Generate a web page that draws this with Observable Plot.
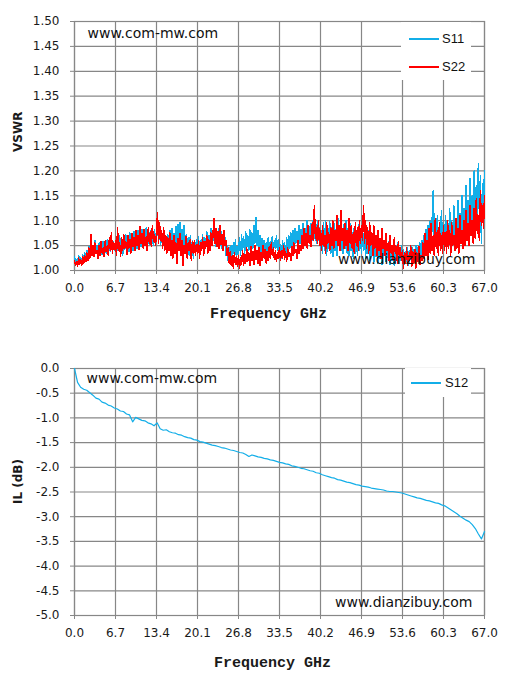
<!DOCTYPE html>
<html>
<head>
<meta charset="utf-8">
<script src="https://cdn.jsdelivr.net/npm/d3@7"></script>
<script src="https://cdn.jsdelivr.net/npm/@observablehq/plot@0.6"></script>
<style>
  body { margin: 0; background: #fff; }
  .wrap { position: relative; width: 506px; }
  .wrap svg { display: block; }
  .legend { position: absolute; z-index: 5; background: #ffffff; font-family: "Liberation Sans", sans-serif; font-size: 13px; color: #111; }
  .sw { position: absolute; width: 30px; height: 2px; }
  .lab { position: absolute; line-height: 14px; }
</style>
</head>
<body>
<div id="top" class="wrap"></div>
<div id="bot" class="wrap"></div>
<script>
// ---------- data ----------
const xTicks = [0, 6.7, 13.4, 20.1, 26.8, 33.5, 40.2, 46.9, 53.6, 60.3, 67.0];
const vswrTicks = [1.00, 1.05, 1.10, 1.15, 1.20, 1.25, 1.30, 1.35, 1.40, 1.45, 1.50];
const ilTicks = [0, -0.5, -1.0, -1.5, -2.0, -2.5, -3.0, -3.5, -4.0, -4.5, -5.0];
const seriesNames = ["S11", "S22", "S12"];

// VSWR sampled every 0.1675 GHz (0 .. 67 GHz), 40 samples per 6.7 GHz
const vswrStep = 0.1675;
const s11 = [
  1.028,1.015,1.022,1.012,1.030,1.018,1.025,1.015,1.032,1.020,1.035,1.022,
  1.040,1.028,1.048,1.030,1.055,1.035,1.045,1.028,1.060,1.035,1.050,1.030,1.055,1.038,1.048,1.032,1.058,1.040,1.052,1.035,1.062,1.042,1.055,1.038,1.065,1.045,1.058,1.040,
  1.050,1.032,1.062,1.040,1.070,1.035,1.058,1.030,1.066,1.042,1.072,1.045,1.060,1.038,1.075,1.048,1.065,1.040,1.078,1.050,
  1.068,1.045,1.080,1.052,1.070,1.048,1.082,1.055,1.072,1.050,1.085,1.058,1.075,1.052,1.080,1.055,1.070,1.050,1.082,1.058,
  1.065,1.090,1.060,1.078,1.052,1.070,1.045,1.075,1.050,1.068,1.040,1.072,1.048,1.080,1.052,1.085,1.058,1.075,1.050,1.088,
  1.055,1.092,1.060,1.096,1.050,1.082,1.045,1.090,1.040,1.072,1.035,1.065,1.030,1.070,1.040,1.060,1.025,1.055,1.035,1.062,
  1.040,1.068,1.030,1.060,1.045,1.072,1.038,1.065,1.050,1.078,1.045,1.070,1.055,1.085,1.050,1.075,1.060,1.080,1.048,1.072,
  1.055,1.085,1.050,1.078,1.045,1.070,1.055,1.065,1.030,1.050,1.020,1.045,1.025,1.050,1.018,1.055,1.030,1.062,1.025,1.048,
  1.035,1.065,1.030,1.072,1.040,1.068,1.035,1.078,1.045,1.070,1.040,1.082,1.050,1.075,1.045,1.090,1.055,1.106,1.050,1.080,
  1.040,1.070,1.035,1.065,1.030,1.060,1.028,1.055,1.035,1.065,1.030,1.058,1.040,1.068,1.035,1.060,1.045,1.070,1.040,1.062,
  1.030,1.052,1.025,1.060,1.035,1.055,1.030,1.065,1.040,1.070,1.045,1.075,1.050,1.080,1.045,1.085,1.055,1.078,1.050,1.090,
  1.055,1.082,1.060,1.095,1.050,1.085,1.058,1.100,1.062,1.088,1.055,1.095,1.060,1.105,1.065,1.090,1.055,1.100,1.060,1.085,
  1.045,1.080,1.035,1.095,1.040,1.100,1.030,1.088,1.045,1.098,1.035,1.085,1.028,1.095,1.040,1.082,1.030,1.105,1.050,1.090,
  1.040,1.078,1.035,1.092,1.045,1.100,1.035,1.085,1.030,1.095,1.040,1.075,1.025,1.088,1.035,1.080,1.030,1.092,1.040,1.070,
  1.035,1.085,1.040,1.075,1.025,1.070,1.035,1.080,1.020,1.065,1.030,1.072,1.018,1.060,1.028,1.068,1.015,1.058,1.025,1.062,
  1.012,1.055,1.030,1.060,1.018,1.050,1.025,1.058,1.012,1.048,1.020,1.052,1.010,1.045,1.022,1.055,1.015,1.042,1.020,1.050,
  1.020,1.042,1.012,1.038,1.018,1.045,1.010,1.040,1.022,1.048,1.015,1.042,1.020,1.050,1.018,1.045,1.025,1.055,1.030,1.060,
  1.035,1.070,1.040,1.082,1.045,1.090,1.038,1.098,1.045,1.105,1.160,1.070,1.095,1.050,1.110,1.045,1.090,1.055,1.120,1.050,
  1.085,1.050,1.110,1.060,1.095,1.045,1.125,1.065,1.100,1.055,1.130,1.070,1.105,1.060,1.140,1.075,1.115,1.065,1.150,1.080,
  1.125,1.070,1.170,1.090,1.140,1.080,1.185,1.095,1.150,1.085,1.200,1.100,1.170,1.095,1.215,1.110,1.190,1.055,1.175,1.130,
  1.200
];
const s22 = [
  1.020,1.010,1.018,1.008,1.025,1.012,1.022,1.010,1.028,1.015,1.030,1.018,
  1.035,1.020,1.045,1.025,1.072,1.030,1.050,1.028,1.055,1.035,1.040,1.025,1.050,1.030,1.058,1.035,1.045,1.028,1.060,1.038,1.050,1.030,1.065,1.040,1.075,1.035,1.055,1.042,
  1.060,1.030,1.085,1.040,1.055,1.028,1.065,1.040,1.072,1.045,1.058,1.032,1.070,1.045,1.062,1.035,1.075,1.048,1.066,1.040,
  1.080,1.050,1.070,1.042,1.088,1.055,1.075,1.045,1.082,1.050,1.068,1.040,1.085,1.055,1.078,1.048,1.090,1.058,1.072,1.050,
  1.075,1.115,1.055,1.095,1.060,1.080,1.045,1.085,1.040,1.070,1.035,1.065,1.040,1.075,1.030,1.060,1.025,1.070,1.035,1.055,
  1.015,1.065,1.040,1.075,1.030,1.060,1.010,1.050,1.035,1.068,1.025,1.055,1.040,1.062,1.020,1.058,1.035,1.060,1.030,1.052,
  1.035,1.060,1.025,1.055,1.040,1.065,1.030,1.058,1.045,1.070,1.035,1.062,1.040,1.075,1.050,1.068,1.105,1.055,1.085,1.048,
  1.078,1.045,1.090,1.052,1.072,1.040,1.080,1.050,1.060,1.030,1.045,1.015,1.038,1.010,1.030,1.005,1.035,1.012,1.028,1.008,
  1.030,1.005,1.025,1.012,1.040,1.010,1.032,1.015,1.045,1.018,1.035,1.010,1.048,1.020,1.038,1.012,1.050,1.022,1.040,1.015,
  1.045,1.010,1.035,1.020,1.050,1.025,1.042,1.015,1.038,1.020,1.048,1.025,1.055,1.030,1.045,1.022,1.040,1.018,1.035,1.025,
  1.045,1.020,1.040,1.025,1.050,1.022,1.038,1.018,1.045,1.028,1.035,1.020,1.048,1.030,1.055,1.035,1.042,1.025,1.060,1.035,
  1.050,1.040,1.070,1.045,1.085,1.050,1.075,1.045,1.090,1.055,1.070,1.048,1.095,1.060,1.130,1.065,1.085,1.055,1.100,1.050,
  1.080,1.040,1.090,1.050,1.070,1.035,1.095,1.055,1.075,1.040,1.085,1.050,1.100,1.045,1.080,1.060,1.110,1.050,1.090,1.040,
  1.120,1.060,1.085,1.045,1.095,1.050,1.080,1.040,1.105,1.055,1.090,1.045,1.075,1.035,1.095,1.050,1.085,1.040,1.100,1.055,
  1.090,1.060,1.130,1.055,1.100,1.045,1.085,1.035,1.095,1.050,1.075,1.030,1.090,1.045,1.070,1.030,1.080,1.040,1.065,1.025,
  1.085,1.045,1.060,1.030,1.075,1.040,1.055,1.020,1.070,1.035,1.050,1.020,1.065,1.035,1.048,1.015,1.058,1.030,1.045,1.020,
  1.040,1.005,1.035,1.015,1.045,1.010,1.030,1.020,1.050,1.008,1.038,1.015,1.042,1.005,1.035,1.018,1.048,1.012,1.030,1.020,
  1.055,1.025,1.075,1.030,1.060,1.022,1.085,1.035,1.095,1.040,1.070,1.030,1.105,1.045,1.080,1.030,1.095,1.040,1.070,1.035,
  1.090,1.040,1.075,1.035,1.100,1.045,1.080,1.030,1.095,1.050,1.070,1.040,1.105,1.045,1.085,1.035,1.110,1.055,1.080,1.045,
  1.100,1.050,1.120,1.060,1.095,1.050,1.130,1.070,1.100,1.055,1.125,1.065,1.145,1.075,1.110,1.060,1.160,1.090,1.130,1.085,
  1.150
];

// Insertion loss sampled every 0.5 GHz (0 .. 67 GHz)
const ilStep = 0.5;
const s12 = [
  0.00,-0.28,-0.38,-0.42,-0.44,-0.49,-0.54,-0.60,-0.62,-0.68,-0.70,-0.74,-0.76,-0.80,-0.82,-0.86,-0.87,-0.92,-0.94,-1.08,
  -0.99,-1.02,-1.05,-1.06,-1.10,-1.12,-1.16,-1.10,-1.22,-1.25,-1.24,-1.28,-1.30,-1.31,-1.34,-1.35,-1.38,-1.40,-1.41,-1.44,
  -1.45,-1.48,-1.49,-1.51,-1.53,-1.55,-1.56,-1.58,-1.60,-1.61,-1.63,-1.65,-1.66,-1.68,-1.70,-1.71,-1.74,-1.78,-1.75,-1.77,
  -1.79,-1.80,-1.82,-1.83,-1.85,-1.86,-1.88,-1.90,-1.91,-1.93,-1.94,-1.97,-1.98,-2.00,-2.02,-2.03,-2.05,-2.07,-2.08,-2.11,
  -2.12,-2.15,-2.17,-2.19,-2.21,-2.22,-2.25,-2.26,-2.28,-2.30,-2.31,-2.33,-2.35,-2.36,-2.38,-2.39,-2.40,-2.42,-2.43,-2.44,
  -2.45,-2.46,-2.48,-2.49,-2.49,-2.50,-2.51,-2.52,-2.54,-2.56,-2.58,-2.60,-2.62,-2.63,-2.65,-2.67,-2.68,-2.70,-2.72,-2.73,
  -2.76,-2.78,-2.82,-2.86,-2.90,-2.94,-2.99,-3.03,-3.07,-3.10,-3.16,-3.24,-3.35,-3.45,-3.30
];

// ---------- drawing ----------
const GRID = "#878787";
const BLUE = "#13aee8";
const RED = "#ff0000";

function makeChart(o) {
  return Plot.plot({
    width: 506,
    height: o.height,
    marginTop: o.marginTop,
    marginBottom: o.marginBottom,
    marginLeft: 74,
    marginRight: 22,
    style: { fontFamily: "DejaVu Sans, sans-serif", fontSize: "12px", color: "#1a1a1a", background: "#fff" },
    x: { domain: [0, 67] },
    y: { domain: o.yDomain },
    marks: [
      Plot.gridX(xTicks, { stroke: GRID, strokeOpacity: 1, strokeWidth: 1.2 }),
      Plot.gridY(o.yTicks, { stroke: GRID, strokeOpacity: 1, strokeWidth: 1.2 }),
      Plot.frame({ stroke: GRID, strokeWidth: 1.2 }),
      Plot.axisX({ ticks: xTicks, tickSize: 4, tickPadding: 9, stroke: GRID, tickFormat: d => d.toFixed(1), label: null, fontSize: 12 }),
      Plot.axisY({ ticks: o.yTicks, tickSize: 4, tickPadding: 11, stroke: GRID, tickFormat: o.yFmt, label: null, fontSize: 12 }),
      ...o.lines,
      Plot.text([o.yLabel], { frameAnchor: "left", dx: -56, dy: o.yLabelDy, rotate: -90, fontWeight: "bold", fontSize: 12, fontFamily: "DejaVu Sans, sans-serif" }),
      Plot.text(["Frequency GHz"], { frameAnchor: "bottom", dx: o.xLabelDx, dy: o.xLabelDy, fontWeight: "bold", fontSize: 15, fontFamily: "Liberation Mono, monospace" }),
      Plot.text(["www.com-mw.com"], { frameAnchor: "top-left", dx: o.wm1[0], dy: o.wm1[1], textAnchor: "start", lineAnchor: "middle", fontSize: 14, fill: "#111" }),
      Plot.text(["www.dianzibuy.com"], { frameAnchor: "bottom-right", dx: o.wm2[0], dy: o.wm2[1], textAnchor: "end", lineAnchor: "middle", fontSize: 14, fill: "#111" })
    ]
  });
}

const topChart = makeChart({
  height: 340, marginTop: 21, marginBottom: 70,
  yDomain: [1.0, 1.5], yTicks: vswrTicks, yFmt: d => d.toFixed(2),
  yLabel: "VSWR", yLabelDy: 6, xLabelDx: -11, xLabelDy: 47,
  wm1: [13, 12], wm2: [-9, -11],
  lines: [
    Plot.lineY(s11, { x: (d, i) => i * vswrStep, y: d => d, stroke: BLUE, strokeWidth: 1.5, shapeRendering: "crispEdges" }),
    Plot.lineY(s22, { x: (d, i) => i * vswrStep, y: d => d, stroke: RED, strokeWidth: 1.5, shapeRendering: "crispEdges" })
  ]
});

const botChart = makeChart({
  height: 342, marginTop: 28, marginBottom: 67,
  yDomain: [-5.0, 0], yTicks: ilTicks, yFmt: d => d.toFixed(1),
  yLabel: "IL (dB)", yLabelDy: 12, xLabelDx: -7, xLabelDy: 51,
  wm1: [12, 10], wm2: [-12, -13],
  lines: [
    Plot.lineY(s12, { x: (d, i) => i * ilStep, y: d => d, stroke: BLUE, strokeWidth: 1.2 })
  ]
});

document.getElementById("top").appendChild(topChart);
document.getElementById("bot").appendChild(botChart);

function legend(container, box, items) {
  const lg = document.createElement("div");
  lg.className = "legend";
  Object.assign(lg.style, { left: box[0] + "px", top: box[1] + "px", width: box[2] + "px", height: box[3] + "px" });
  items.forEach(it => {
    const sw = document.createElement("div");
    sw.className = "sw";
    sw.style.left = it.sx + "px";
    sw.style.top = (it.sy - 1) + "px";
    sw.style.backgroundColor = it.color;
    const lab = document.createElement("div");
    lab.className = "lab";
    lab.textContent = it.name;
    lab.style.left = it.tx + "px";
    lab.style.top = (it.sy - 7) + "px";
    lg.appendChild(sw);
    lg.appendChild(lab);
  });
  container.appendChild(lg);
}

legend(document.getElementById("top"), [401, 22, 70, 58], [
  { name: seriesNames[0], color: BLUE, sx: 8, sy: 17, tx: 41 },
  { name: seriesNames[1], color: RED, sx: 8, sy: 45, tx: 41 }
]);
legend(document.getElementById("bot"), [405, 28, 66, 29], [
  { name: seriesNames[2], color: BLUE, sx: 6, sy: 15, tx: 40 }
]);
</script>
</body>
</html>
